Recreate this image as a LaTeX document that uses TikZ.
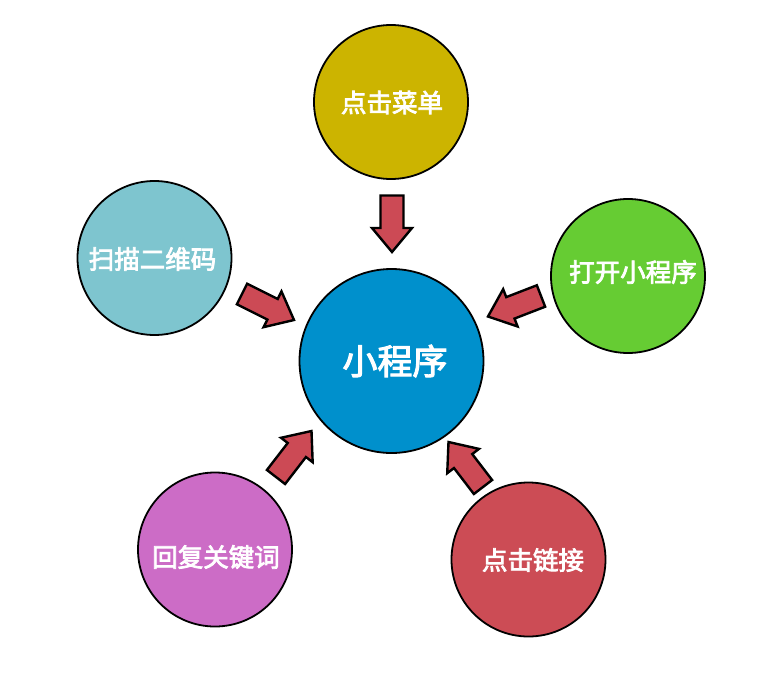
\documentclass[tikz,border=0pt]{standalone}
\usepackage{fontspec}
\newfontfamily\cjk{Noto Sans CJK SC}[FakeBold=3]
\usetikzlibrary{calc}
\definecolor{cmain}{HTML}{0090CC}
\definecolor{ctop}{HTML}{CCB400}
\definecolor{cleft}{HTML}{7EC5CF}
\definecolor{cright}{HTML}{66CC33}
\definecolor{cbl}{HTML}{CC6CC6}
\definecolor{cbr}{HTML}{CC4C55}
\definecolor{arrred}{HTML}{CC4A55}
\newcommand\blkarrow[2]{%
  \coordinate (#1h) at ($(#2)!24pt!(#1)$);
  \draw[arr] ($(#1)!11.5pt!90:(#2)$) -- ($(#1h)!11.5pt!90:(#2)$) -- ($(#1h)!20pt!90:(#2)$) -- (#2)
    -- ($(#1h)!20pt!-90:(#2)$) -- ($(#1h)!11.5pt!-90:(#2)$) -- ($(#1)!11.5pt!-90:(#2)$) -- cycle;}
\begin{document}
\begin{tikzpicture}[x=1pt,y=-1pt,
  bub/.style={circle,draw=black,line width=1.8pt,inner sep=0pt,minimum size=154pt},
  lbl/.style={inner sep=0pt,text=white,font=\cjk\fontsize{25.5}{25.5}\selectfont},
  arr/.style={fill=arrred,draw=black,line width=2.4pt,line join=miter}]
\useasboundingbox[fill=white] (0,0) rectangle (758,675);
\node[bub,fill=cmain,minimum size=184pt] (main) at (391.5,361) {};
\node[bub,fill=ctop] (top) at (391,102) {};
\node[bub,fill=cleft] (left) at (154.5,258) {};
\node[bub,fill=cright] (right) at (628,276) {};
\node[bub,fill=cbl] (bl) at (215,549.5) {};
\node[bub,fill=cbr] (br) at (528.5,559.5) {};
\node[lbl,font=\cjk\fontsize{35}{35}\selectfont] (maint) at (395,361) {小程序};
\node[lbl] (topt) at (392,102.5) {点击菜单};
\node[lbl] (leftt) at (152.5,259) {扫描二维码};
\node[lbl] (rightt) at (633,272) {打开小程序};
\node[lbl] (blt) at (216,557) {回复关键词};
\node[lbl] (brt) at (533,560) {点击链接};
\coordinate (t1) at (392,195.5);
\coordinate (p1) at (392,252);
\coordinate (t2) at (242,294);
\coordinate (p2) at (294,320);
\coordinate (t3) at (541,296);
\coordinate (p3) at (488,316.5);
\coordinate (t4) at (276,477);
\coordinate (p4) at (311.5,431);
\coordinate (t5) at (483,487);
\coordinate (p5) at (448.5,442);
\blkarrow{t1}{p1}
\blkarrow{t2}{p2}
\blkarrow{t3}{p3}
\blkarrow{t4}{p4}
\blkarrow{t5}{p5}
\end{tikzpicture}
\end{document}
